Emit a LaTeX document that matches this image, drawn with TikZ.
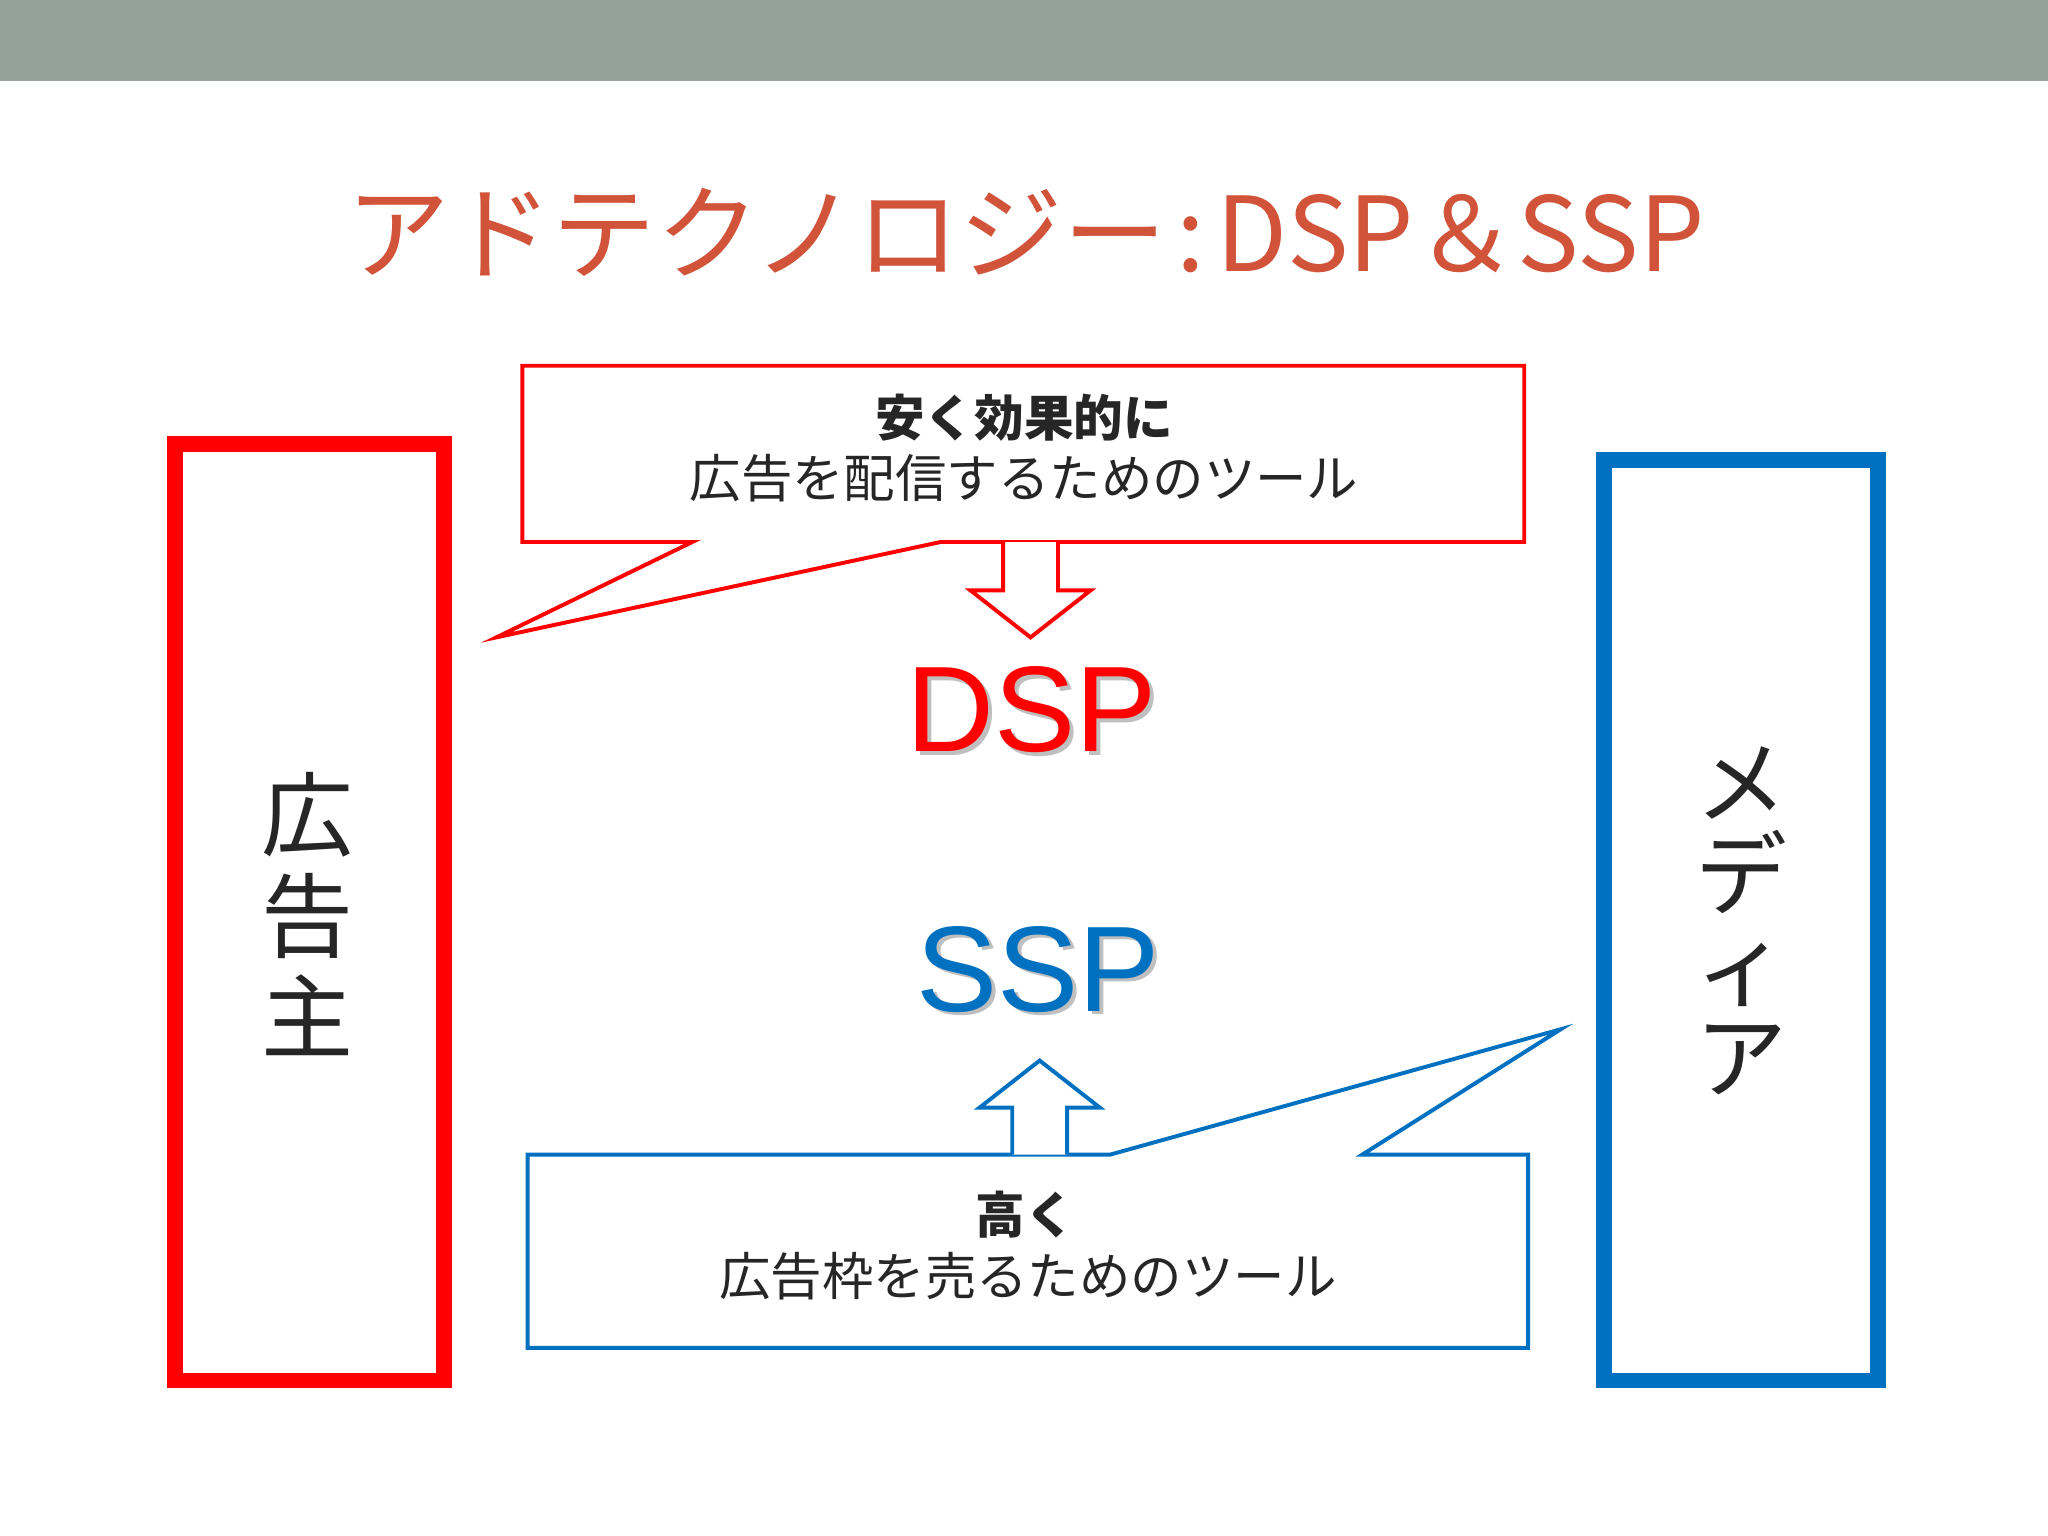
\documentclass[tikz,border=0pt]{standalone}
\usepackage{fontspec}
\setmainfont{Liberation Sans}
\newfontfamily\jp{Noto Sans CJK JP}
\definecolor{tred}{HTML}{D0533A}
\definecolor{bred}{HTML}{FF0000}
\definecolor{bblue}{HTML}{0070C0}
\definecolor{band}{HTML}{93A29A}
\definecolor{ink}{HTML}{262626}
\tikzset{lbl/.style={font=\jp\fontsize{11.2pt}{13pt}\selectfont,text=ink,inner sep=0},
 big/.style={font=\fontsize{26.5pt}{30pt}\selectfont,inner sep=0},
 vert/.style={font=\jp\fontsize{20pt}{22pt}\selectfont,text=ink,align=center,inner sep=0}}
\begin{document}
\begin{tikzpicture}[x=0.01cm,y=-0.01cm]
\useasboundingbox (0,0) rectangle (1568,1176);
\fill[white] (0,0) rectangle (1568,1176);
\fill[band] (0,0) rectangle (1568,62);
\node[font=\jp\fontsize{22.5pt}{24pt}\selectfont,text=tred,inner sep=0] (title) at (785,178) {アドテクノロジー\kern0.1em:\kern0.1em DSP＆SSP};
\draw[bred,line width=0.12cm] (134,340) rectangle (340,1057);
\node[vert] (adv) at (235,700) {広\\告\\主};
\draw[bblue,line width=0.12cm] (1228,352) rectangle (1438,1057);
\node[vert,font=\jp\fontsize{20pt}{20pt}\selectfont] (media) at (1333,705) {メ\\デ\\ィ\\ア};
\draw[bred,line width=0.03cm,fill=white] (400,280) -- (1167,280) -- (1167,415) -- (720,415) -- (380,488) -- (530,415) -- (400,415) -- cycle;
\node[lbl,font=\jp\bfseries\fontsize{10.8pt}{13pt}\selectfont] (d1) at (784,320) {安く効果的に};
\node[lbl] (d2) at (784,366) {広告を配信するためのツール};
\draw[bred,line width=0.03cm,fill=white] (768,415) -- (768,452) -- (743,452) -- (789,488) -- (835,452) -- (810,452) -- (810,415);
\node[big,text=black!25] (dsps) at (793,546) {DSP};
\node[big,text=bred] (dsp) at (790,543) {DSP};
\node[big,text=black!25] (ssps) at (798,745) {SSP};
\node[big,text=bblue] (ssp) at (795,742) {SSP};
\draw[bblue,line width=0.03cm,fill=white] (404,884) -- (850,884) -- (1195,788) -- (1043,884) -- (1170,884) -- (1170,1032) -- (404,1032) -- cycle;
\draw[bblue,line width=0.03cm,fill=white] (775,884) -- (775,848) -- (750,848) -- (796,812) -- (842,848) -- (817,848) -- (817,884);
\node[lbl,font=\jp\bfseries\fontsize{10.8pt}{13pt}\selectfont] (s1) at (785,930) {高く};
\node[lbl] (s2) at (787,977) {広告枠を売るためのツール};
\end{tikzpicture}
\end{document}
